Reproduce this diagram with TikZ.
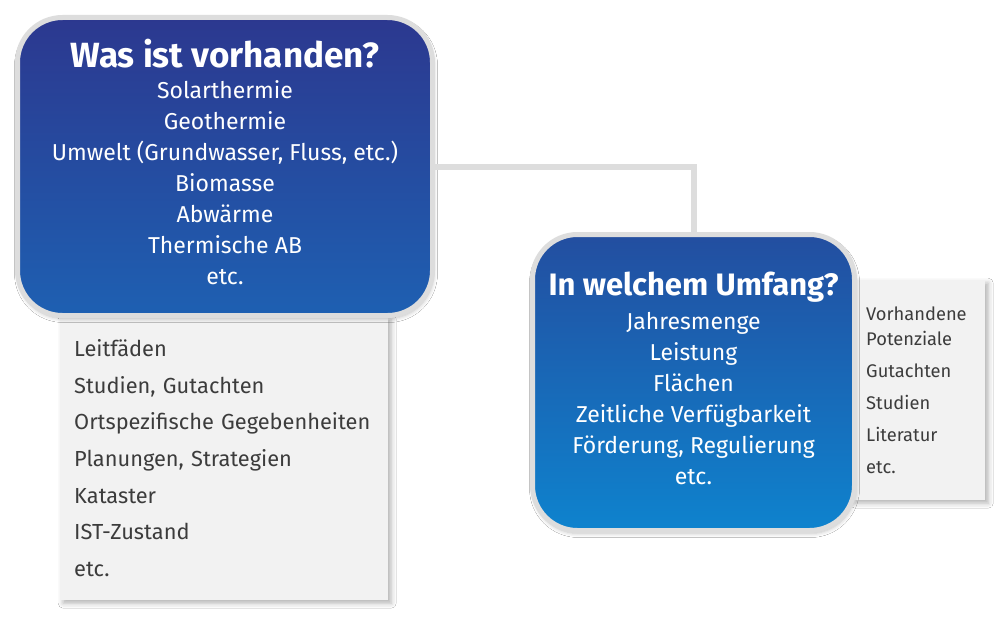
\documentclass[tikz,border=0pt]{standalone}
\usepackage{fontspec}
\setmainfont{Fira Sans}
\usetikzlibrary{shadows, shadows.blur, positioning}
\definecolor{cadre}{RGB}{221,221,221}
\definecolor{bleuhaut}{RGB}{44,56,143}
\definecolor{bleubas}{RGB}{30,96,178}
\definecolor{azurhaut}{RGB}{35,78,160}
\definecolor{azurbas}{RGB}{14,131,206}
\definecolor{fondliste}{RGB}{242,242,242}
\definecolor{gristexte}{RGB}{60,60,60}
\newcommand{\titre}[2]{{\fontsize{#1}{38}\selectfont\bfseries #2}}
\tikzset{
  boite/.style={rectangle, rounded corners=45pt, draw=cadre, line width=5pt,
    blur shadow={shadow xshift=1pt, shadow yshift=-3pt, shadow blur radius=4pt, shadow opacity=25}},
  contenu/.style={text=white, align=center, font=\fontsize{23}{31}\selectfont},
  liste/.style={rectangle, fill=fondliste, anchor=north west, align=left,
    text=gristexte, inner xsep=14pt,
    blur shadow={shadow xshift=3pt, shadow yshift=-3pt, shadow blur radius=5pt, shadow opacity=30}},
  lien/.style={draw=cadre, line width=6pt},
}

\begin{document}
\begin{tikzpicture}[x=1pt, y=-1pt]
  \fill[white] (0,0) rectangle (1000,618);
  \useasboundingbox (0,0) rectangle (1000,618);
  % listes grises, sous les boites
  \node[liste, text width=300pt, minimum height=284pt, font=\fontsize{21.8}{36.7}\selectfont] (sources) at (60,316)
    {Leitfäden\\Studien, Gutachten\\Ortspezifische Gegebenheiten\\Planungen, Strategien\\Kataster\\IST-Zustand\\etc.};
  \node[liste, text width=105pt, minimum height=220pt, font=\fontsize{18.3}{25}\selectfont] (grundlagen) at (852,280)
    {Vorhandene\\Potenziale\\[7pt]Gutachten\\[7pt]Studien\\[7pt]Literatur\\[7pt]etc.};
  % les deux questions
  \node[boite, top color=bleuhaut, bottom color=bleubas, minimum width=415pt, minimum height=298pt] (vorhanden) at (225,166.5) {};
  \node[contenu] (vorhandentexte) at ([yshift=4.5pt]vorhanden.center)
    {\titre{35}{Was ist vorhanden?}\\Solarthermie\\Geothermie\\Umwelt (Grundwasser, Fluss, etc.)\\Biomasse\\Abwärme\\Thermische AB\\etc.};
  \node[boite, top color=azurhaut, bottom color=azurbas, minimum width=322pt, minimum height=296pt] (umfang) at (693.5,382.5) {};
  \node[contenu] (umfangtexte) at ([yshift=4.5pt]umfang.center)
    {\titre{31}{In welchem Umfang?}\\[3pt]Jahresmenge\\Leistung\\Flächen\\Zeitliche Verfügbarkeit\\Förderung, Regulierung\\etc.};
  \draw[lien] (vorhanden.east) -| (umfang.north);
\end{tikzpicture}
\end{document}
